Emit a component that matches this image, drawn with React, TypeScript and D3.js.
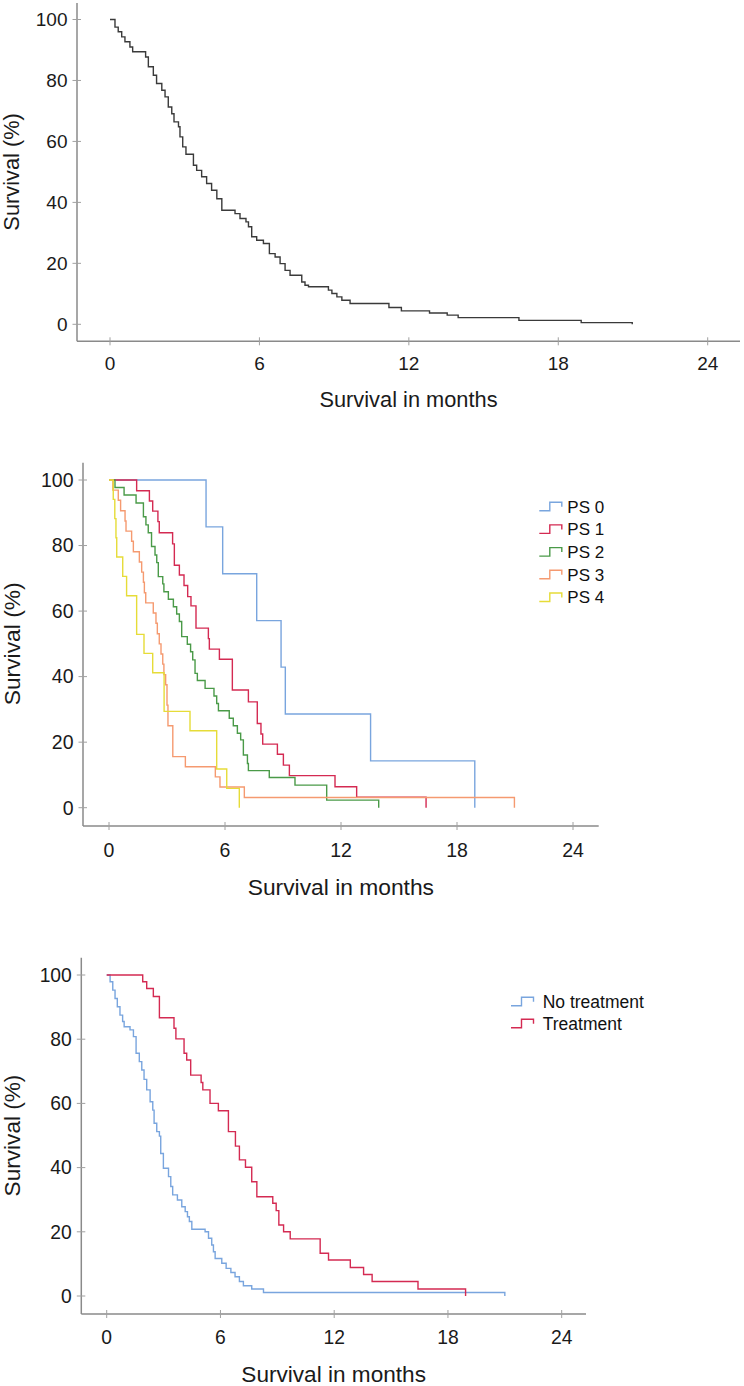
import React from "react";
import * as d3 from "d3";

// ---------- DATA ----------
const xTicks = [0, 6, 12, 18, 24];
const yTicks = [0, 20, 40, 60, 80, 100];
const xTitle = "Survival in months";
const yTitle = "Survival (%)";

// Panel 1: all patients
const allTime = [0, 0.2, 0.33, 0.47, 0.6, 0.8, 0.91, 1.43, 1.54, 1.74, 1.87, 2.08, 2.21, 2.34, 2.48, 2.57, 2.75, 2.81, 2.92, 3.05, 3.35, 3.48, 3.68, 3.88, 4.08, 4.29, 4.49, 5.02, 5.22, 5.46, 5.56, 5.69, 5.89, 6.16, 6.4, 6.63, 6.83, 7.03, 7.23, 7.7, 7.83, 7.97, 8.77, 8.91, 9.11, 9.31, 9.64, 11.2, 11.7, 12.83, 13.54, 13.98, 16.42, 18.92, 20.97];
const allSurv = [100, 97.5, 96, 94.3, 92.7, 91, 89.4, 87.7, 84.5, 81.7, 79, 76.8, 74.6, 71.3, 69.1, 66.4, 64.8, 61.5, 58.2, 55.8, 52.2, 50.5, 48.4, 46.2, 44, 41.2, 37.4, 36.3, 34.7, 33.6, 32, 28.7, 27.6, 26.5, 23.2, 22.1, 19.9, 17.7, 16.1, 13.9, 12.8, 12.3, 11.2, 10.1, 9, 7.9, 6.8, 5.5, 4.4, 3.7, 3.0, 2.2, 1.3, 0.55, 0];

// Panel 2: by performance status
const psLabels = ["PS 0", "PS 1", "PS 2", "PS 3", "PS 4"];
const ps0Time = [0, 5.02, 5.88, 7.64, 8.9, 9.12, 13.53, 18.92];
const ps0Surv = [100, 85.7, 71.4, 57.1, 42.9, 28.6, 14.3, 0];
const ps1Time = [0, 1.43, 2.09, 2.26, 2.53, 2.6, 3.29, 3.38, 3.64, 3.88, 4.07, 4.24, 4.5, 5.14, 5.19, 5.71, 6.38, 7.21, 7.67, 7.86, 7.95, 8.71, 9.02, 9.33, 11.69, 12.81, 16.4];
const ps1Surv = [100, 96.7, 93.6, 90.5, 87.3, 83.9, 80.5, 74.0, 71.0, 67.8, 64.4, 61.6, 54.8, 51.6, 48.4, 45.3, 35.9, 32.3, 25.7, 22.5, 19.4, 16.3, 13.0, 9.8, 6.4, 3.2, 0];
const ps2Time = [0, 0.31, 0.78, 1.4, 1.78, 1.91, 2.03, 2.2, 2.38, 2.47, 2.55, 2.78, 2.84, 3.07, 3.33, 3.5, 3.64, 3.76, 4.05, 4.22, 4.33, 4.45, 4.57, 4.97, 5.43, 5.57, 5.66, 6.22, 6.43, 6.64, 6.81, 6.95, 7.16, 7.21, 8.29, 9.62, 11.26, 13.95];
const ps2Surv = [100, 97.7, 95.4, 93, 88.8, 86.3, 83.9, 79.7, 77.1, 74.8, 70.5, 68.3, 65.9, 63.6, 61.3, 59.1, 56.8, 52.2, 49.9, 47.6, 45.1, 41, 38.8, 36.4, 34.1, 31.8, 29.6, 27.3, 25, 22.7, 20.7, 16.1, 13.5, 11.3, 9.2, 6.9, 2.3, 0];
const ps3Time = [0, 0.2, 0.48, 0.6, 0.83, 0.88, 1.17, 1.26, 1.57, 1.69, 1.78, 1.83, 1.9, 2.29, 2.43, 2.5, 2.6, 2.69, 2.78, 2.84, 2.93, 3.0, 3.05, 3.3, 3.95, 5.5, 5.74, 7.0, 20.97];
const ps3Surv = [100, 96.9, 93.8, 90.6, 87.5, 84.4, 81.3, 78.1, 75, 71.9, 68.8, 65.6, 62.5, 59.4, 56.3, 53.1, 50, 46.9, 43.8, 40.6, 37.5, 31.3, 25, 15.6, 12.5, 9.4, 6.3, 3.1, 0];
const ps4Time = [0, 0.22, 0.3, 0.36, 0.4, 0.71, 0.91, 1.43, 1.81, 2.26, 2.85, 4.19, 5.57, 6.09, 6.74];
const ps4Surv = [100, 94.1, 88.2, 82.4, 76.5, 70.6, 64.7, 52.9, 47.1, 41.2, 29.4, 23.5, 11.8, 5.9, 0];

// Panel 3: by treatment
const txLabels = ["No treatment", "Treatment"];
const noTxTime = [0, 0.18, 0.32, 0.44, 0.56, 0.7, 0.84, 0.92, 1.23, 1.41, 1.55, 1.72, 1.85, 1.97, 2.11, 2.29, 2.43, 2.5, 2.64, 2.78, 2.85, 2.99, 3.26, 3.38, 3.48, 3.73, 3.96, 4.14, 4.26, 4.36, 4.49, 5.19, 5.37, 5.54, 5.63, 5.72, 6.07, 6.3, 6.55, 6.77, 7.0, 7.21, 7.65, 8.27, 21.0];
const noTxSurv = [100, 97.9, 95.3, 92.7, 90.1, 87.5, 85.5, 83.9, 82.9, 80.8, 75.6, 73, 70.4, 67.5, 64.2, 60.5, 57.9, 53.8, 51.2, 49.8, 44.4, 39.8, 37.2, 34.1, 31.5, 29.9, 27.8, 26.3, 24.7, 23.2, 20.8, 20, 18, 15.9, 13.8, 11.7, 10.2, 8.6, 7.3, 6, 4.5, 3.2, 2.2, 1.1, 0];
const txTime = [0, 1.9, 2.11, 2.46, 2.78, 3.55, 3.65, 4.08, 4.22, 4.43, 4.98, 5.07, 5.45, 5.89, 6.42, 6.79, 7.0, 7.32, 7.65, 7.92, 8.76, 8.94, 9.08, 9.33, 9.68, 11.26, 11.7, 12.85, 13.55, 14.0, 16.42, 18.93];
const txSurv = [100, 97.9, 95.8, 93.3, 86.7, 83.4, 80.1, 75.6, 73.5, 68.8, 66.5, 64.2, 60, 57.7, 51.2, 46.7, 42.4, 40.1, 35.6, 30.9, 28.9, 26.6, 22.1, 20, 17.8, 13.3, 11.2, 8.9, 6.7, 4.5, 2.2, 0];

// ---------- STYLE ----------
const FONT = "'Liberation Sans', Arial, Helvetica, sans-serif";
const BLUE = "#79a5de";
const RED = "#d42a52";
const GREEN = "#4a9a48";
const ORANGE = "#f59a70";
const YELLOW = "#e6dc38";
const DARK = "#3a3a3a";
const AXIS = "#8a8a8a";

type Series = { label?: string; time: number[]; surv: number[]; color: string };

type Layout = {
  x0: number; x24: number; y100: number; y0: number;
  axisX: number; axisTop: number; axisY: number; axisRight: number;
  tickFont: number; titleFont: number; yTitleX: number;
  xLabelBase: number; xTitleBase: number;
  legendX?: number; legendY?: number; legendStep?: number; legendFont?: number; legendTextX?: number;
};

function Panel({ layout, series }: { layout: Layout; series: Series[] }) {
  const L = layout;
  const x = d3.scaleLinear().domain([0, 24]).range([L.x0, L.x24]);
  const y = d3.scaleLinear().domain([0, 100]).range([L.y0, L.y100]);
  const line = d3
    .line<[number, number]>()
    .x((d) => x(d[0]))
    .y((d) => y(d[1]))
    .curve(d3.curveStepAfter);
  const yMid = (y(0) + y(100)) / 2;
  const xMid = (L.axisX + L.axisRight) / 2;
  return (
    <g>
      {/* axes */}
      <line x1={L.axisX} x2={L.axisX} y1={L.axisTop} y2={L.axisY} stroke={AXIS} strokeWidth={1.5} />
      <line x1={L.axisX} x2={L.axisRight} y1={L.axisY} y2={L.axisY} stroke={AXIS} strokeWidth={1.5} />
      {yTicks.map((t) => (
        <g key={"y" + t}>
          <line x1={L.axisX - 4.5} x2={L.axisX + 4} y1={y(t)} y2={y(t)} stroke="#a0a0a0" strokeWidth={1} />
          <text x={L.axisX - 9.5} y={y(t)} dy="0.35em" textAnchor="end" fontSize={L.tickFont} fill="#1a1a1a" fontFamily={FONT}>
            {t}
          </text>
        </g>
      ))}
      {xTicks.map((t) => (
        <g key={"x" + t}>
          <line x1={x(t)} x2={x(t)} y1={L.axisY - 4} y2={L.axisY + 4} stroke="#a0a0a0" strokeWidth={1} />
          <text x={x(t)} y={L.xLabelBase} textAnchor="middle" fontSize={L.tickFont} fill="#1a1a1a" fontFamily={FONT}>
            {t}
          </text>
        </g>
      ))}
      <text x={xMid} y={L.xTitleBase} textAnchor="middle" fontSize={L.titleFont} fill="#1a1a1a" fontFamily={FONT}>
        {xTitle}
      </text>
      <text
        transform={`translate(${L.yTitleX},${yMid}) rotate(-90)`}
        textAnchor="middle"
        fontSize={L.titleFont}
        fill="#1a1a1a"
        fontFamily={FONT}
      >
        {yTitle}
      </text>
      {/* curves */}
      {series.map((s, i) => {
        const pts: [number, number][] = s.time.map((t, j) => [t, s.surv[j]]);
        return <path key={"c" + i} d={line(pts) || ""} fill="none" stroke={s.color} strokeWidth={1.4} />;
      })}
      {/* legend */}
      {L.legendX !== undefined &&
        series.map((s, i) => {
          const cy = (L.legendY as number) + i * (L.legendStep as number);
          const x0 = L.legendX as number;
          const d = `M${x0},${cy + 4}H${x0 + 10.5}V${cy - 4.5}H${x0 + 22.5}V${cy}`;
          return (
            <g key={"l" + i}>
              <path d={d} fill="none" stroke={s.color} strokeWidth={1.4} />
              <text x={L.legendTextX} y={cy} dy="0.35em" fontSize={L.legendFont} fill="#111" fontFamily={FONT}>
                {s.label}
              </text>
            </g>
          );
        })}
    </g>
  );
}

const layout1: Layout = {
  x0: 110, x24: 707.7, y100: 19.5, y0: 324.3,
  axisX: 77, axisTop: 3, axisY: 341.3, axisRight: 740,
  tickFont: 19, titleFont: 21.8, yTitleX: 19.3,
  xLabelBase: 370, xTitleBase: 406.7,
};
const layout2: Layout = {
  x0: 109, x24: 573, y100: 480, y0: 807.7,
  axisX: 83, axisTop: 462.7, axisY: 826, axisRight: 598.7,
  tickFont: 19.5, titleFont: 22.8, yTitleX: 19.8,
  xLabelBase: 856.7, xTitleBase: 895,
  legendX: 539.3, legendY: 506.7, legendStep: 22.7, legendFont: 17, legendTextX: 567.3,
};
const layout3: Layout = {
  x0: 106.7, x24: 561.7, y100: 975, y0: 1296,
  axisX: 81.3, axisTop: 957.7, axisY: 1314, axisRight: 586,
  tickFont: 19.3, titleFont: 22.6, yTitleX: 19.5,
  xLabelBase: 1344, xTitleBase: 1382,
  legendX: 511, legendY: 1001.7, legendStep: 22, legendFont: 17.5, legendTextX: 542.7,
};

const seriesAll: Series[] = [{ time: allTime, surv: allSurv, color: DARK }];
const seriesPS: Series[] = [
  { label: psLabels[0], time: ps0Time, surv: ps0Surv, color: BLUE },
  { label: psLabels[1], time: ps1Time, surv: ps1Surv, color: RED },
  { label: psLabels[2], time: ps2Time, surv: ps2Surv, color: GREEN },
  { label: psLabels[3], time: ps3Time, surv: ps3Surv, color: ORANGE },
  { label: psLabels[4], time: ps4Time, surv: ps4Surv, color: YELLOW },
];
const seriesTx: Series[] = [
  { label: txLabels[0], time: noTxTime, surv: noTxSurv, color: BLUE },
  { label: txLabels[1], time: txTime, surv: txSurv, color: RED },
];

export default function App() {
  return (
    <svg
      width={744}
      height={1386}
      style={{ position: "absolute", left: 0, top: 0, display: "block", background: "#fff" }}
    >
      <rect x={0} y={0} width={744} height={1386} fill="#fff" />
      <Panel layout={layout1} series={seriesAll} />
      <Panel layout={layout2} series={seriesPS} />
      <Panel layout={layout3} series={seriesTx} />
    </svg>
  );
}
